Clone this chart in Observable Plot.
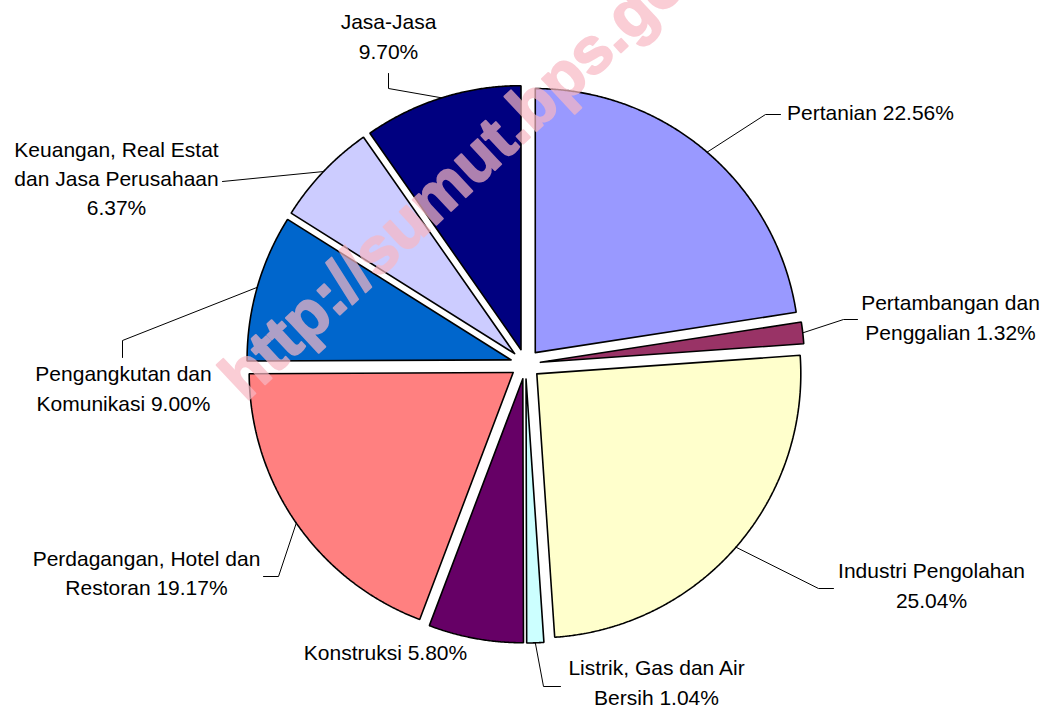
<!DOCTYPE html>
<html><head><meta charset="utf-8">
<script src="https://cdn.jsdelivr.net/npm/d3@7"></script>
<script src="https://cdn.jsdelivr.net/npm/@observablehq/plot@0.6"></script>
<style>body{margin:0;background:#fff;overflow:hidden}</style>
</head><body><div id="chart"></div>
<script>
// ---- data ----
const sectors = ["Pertanian", "Pertambangan dan Penggalian", "Industri Pengolahan", "Listrik, Gas dan Air Bersih", "Konstruksi", "Perdagangan, Hotel dan Restoran", "Pengangkutan dan Komunikasi", "Keuangan, Real Estat dan Jasa Perusahaan", "Jasa-Jasa"];
const shares = [22.56, 1.32, 25.04, 1.04, 5.80, 19.17, 9.00, 6.37, 9.70];
const labelPrefix = ["Pertanian ", "Pertambangan dan\nPenggalian ", "Industri Pengolahan\n", "Listrik, Gas dan Air\nBersih ", "Konstruksi ", "Perdagangan, Hotel dan\nRestoran ", "Pengangkutan dan\nKomunikasi ", "Keuangan, Real Estat\ndan Jasa Perusahaan\n", "Jasa-Jasa\n"];
const watermarkText = "http://sumut.bps.go.id";

// ---- styles / layout ----
const colors = ["#9999FF", "#993366", "#FFFFCC", "#CCFFFF", "#660066", "#FF8080", "#0066CC", "#CCCCFF", "#000080"];
const W = 1045, H = 708, cx = 525, cy = 363.5, R = 264, explode = 15;
const labelPos = [[870, 110], [950, 315], [931, 583], [656, 680], [385, 650], [146, 570.5], [123, 386], [116, 176], [388, 34]];
const leaderPath = [
  [[765, 114], [780, 114]],
  [[843, 319], [857, 319]],
  [[818, 588], [833, 588]],
  [[543, 686], [560, 686]],
  null,
  [[278, 576], [263, 576]],
  [[122, 340], [122, 357]],
  [[222, 181]],
  [[388, 88], [388, 73]]
];
const watermarkPos = {x: 245, y: 402};

// ---- geometry from data ----
const data = sectors.map((s, i) => ({sector: s, value: shares[i], i}));
const arcs = d3.pie().sort(null).value(d => d.value).startAngle(0).endAngle(2 * Math.PI)(data);
const slicePts = [];
const leaderPts = [];
const labels = [];
arcs.forEach((a, i) => {
  const mid = (a.startAngle + a.endAngle) / 2;
  const ox = cx + explode * Math.sin(mid), oy = cy - explode * Math.cos(mid);
  const n = Math.max(2, Math.ceil((a.endAngle - a.startAngle) / 0.005));
  slicePts.push({k: i, x: ox, y: oy, fill: colors[i]});
  for (let j = 0; j <= n; j++) {
    const t = a.startAngle + (a.endAngle - a.startAngle) * j / n;
    slicePts.push({k: i, x: ox + R * Math.sin(t), y: oy - R * Math.cos(t), fill: colors[i]});
  }
  slicePts.push({k: i, x: ox, y: oy, fill: colors[i]});
  if (leaderPath[i]) {
    leaderPts.push({k: i, x: ox + R * Math.sin(mid), y: oy - R * Math.cos(mid)});
    leaderPath[i].forEach(p => leaderPts.push({k: i, x: p[0], y: p[1]}));
  }
  labels.push({x: labelPos[i][0], y: labelPos[i][1], text: labelPrefix[i] + d3.format(".2f")(a.data.value) + "%"});
});

const font = "'Liberation Sans', Arial, sans-serif";
const chart = Plot.plot({
  width: W, height: H, margin: 0,
  x: {domain: [0, W], range: [0, W], axis: null},
  y: {domain: [0, H], range: [0, H], axis: null},
  color: {type: "identity"},
  style: {fontFamily: font, background: "#fff"},
  marks: [
    Plot.line(slicePts, {x: "x", y: "y", z: "k", fill: "fill", stroke: "#000", strokeWidth: 1.6, strokeLinejoin: "miter", curve: "linear"}),
    Plot.line(leaderPts, {x: "x", y: "y", z: "k", stroke: "#000", strokeWidth: 1, curve: "linear"}),
    Plot.text(labels, {x: "x", y: "y", text: "text", fontSize: 21, lineHeight: 1.4, fill: "#000", textAnchor: "middle", fontFamily: font}),
    Plot.text([watermarkPos], {x: "x", y: "y", text: () => watermarkText, rotate: -43, textAnchor: "start", lineAnchor: "bottom", fontSize: 65, fontWeight: "bold", fill: "#F8B8C4", stroke: "#F8B8C4", strokeWidth: 2, opacity: 0.7, fontFamily: font})
  ]
});
document.getElementById("chart").appendChild(chart);
</script>
</body></html>
